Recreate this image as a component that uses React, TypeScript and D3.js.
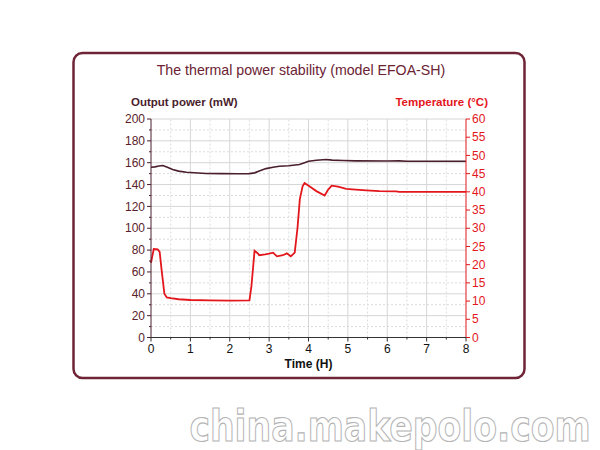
import React from "react";
import * as d3 from "d3";

const title = "The thermal power stability (model EFOA-SH)";
const leftLabel = "Output power (mW)";
const rightLabel = "Temperature (°C)";
const xLabel = "Time (H)";
const watermark = "china.makepolo.com";
const xTicks = [0, 1, 2, 3, 4, 5, 6, 7, 8];
const leftTicks = [0, 20, 40, 60, 80, 100, 120, 140, 160, 180, 200];
const rightTicks = [0, 5, 10, 15, 20, 25, 30, 35, 40, 45, 50, 55, 60];

// Output power (mW), left axis
const powerT = [0, 0.1, 0.2, 0.3, 0.4, 0.55, 0.7, 0.9, 1.1, 1.4, 1.8, 2.2, 2.5, 2.63, 2.75, 2.92, 3.1, 3.26, 3.5, 3.77, 3.9, 4.0, 4.2, 4.45, 4.6, 4.87, 5.2, 6.0, 6.3, 6.5, 7.0, 8.0];
const powerV = [155.9, 156.2, 157.0, 157.4, 156.0, 153.7, 152.3, 151.3, 150.8, 150.1, 150.0, 149.9, 150.0, 150.7, 152.5, 154.6, 155.8, 156.8, 157.2, 158.3, 160.0, 161.3, 162.3, 162.9, 162.4, 162.0, 161.7, 161.5, 161.7, 161.3, 161.3, 161.3];

// Temperature (°C), right axis
const tempT = [0, 0.07, 0.17, 0.22, 0.27, 0.34, 0.4, 0.5, 0.7, 1.0, 1.5, 2.0, 2.5, 2.55, 2.63, 2.7, 2.75, 2.9, 3.0, 3.1, 3.2, 3.35, 3.45, 3.55, 3.65, 3.72, 3.78, 3.85, 3.9, 4.05, 4.2, 4.41, 4.5, 4.59, 4.75, 4.96, 5.2, 5.47, 5.8, 6.23, 6.3, 7.0, 8.0];
const tempV = [20.5, 24.3, 24.2, 23.5, 18.5, 12.0, 11.0, 10.8, 10.5, 10.3, 10.2, 10.1, 10.2, 14.0, 23.8, 23.2, 22.6, 22.8, 23.0, 23.3, 22.3, 22.6, 23.1, 22.3, 23.3, 30.0, 38.0, 41.5, 42.4, 41.3, 40.2, 39.0, 40.6, 41.7, 41.4, 40.8, 40.6, 40.4, 40.2, 40.1, 40.0, 40.0, 40.0];

const POWER_COLOR = "#4a1e2c";
const TEMP_COLOR = "#e3161c";
const FRAME_COLOR = "#6e2436";

export default function App() {
  const x = d3.scaleLinear().domain([0, 8]).range([151, 466]);
  const yL = d3.scaleLinear().domain([0, 200]).range([337.5, 119]);
  const yR = d3.scaleLinear().domain([0, 60]).range([337.5, 119]);

  const powerLine = d3
    .line<number>()
    .x((_, i) => x(powerT[i]))
    .y((d) => yL(d));
  const tempLine = d3
    .line<number>()
    .x((_, i) => x(tempT[i]))
    .y((d) => yR(d));

  const xMinor = d3.range(0, 8.01, 0.5).filter((v) => v % 1 !== 0);
  const yMinor = d3.range(10, 200, 20);
  const font = "Liberation Sans, Arial, sans-serif";

  return (
    <svg width={600} height={450} style={{ position: "absolute", left: 0, top: 0, background: "#fff" }} fontFamily={font}>
      <rect x={0} y={0} width={600} height={450} fill="#fff" />
      <rect x={73.5} y={53} width={451} height={325} rx={9} ry={9} fill="#fff" stroke={FRAME_COLOR} strokeWidth={2.5} />
      <text x={301} y={75} textAnchor="middle" fontSize={14.2} fill="#6b2334">{title}</text>
      <text x={131} y={106} fontSize={11.5} fontWeight="bold" fill={POWER_COLOR}>{leftLabel}</text>
      <text x={488} y={106} textAnchor="end" fontSize={11.5} fontWeight="bold" fill={TEMP_COLOR}>{rightLabel}</text>

      {/* grid */}
      <g>
        {yMinor.map((v) => (
          <line key={"ym" + v} x1={x(0)} x2={x(8)} y1={yL(v)} y2={yL(v)} stroke="#dcdcdc" strokeDasharray="2,2" strokeWidth={1} />
        ))}
        {xMinor.map((v) => (
          <line key={"xm" + v} x1={x(v)} x2={x(v)} y1={yL(0)} y2={yL(200)} stroke="#dcdcdc" strokeDasharray="2,2" strokeWidth={1} />
        ))}
        {leftTicks.filter((v) => v > 0).map((v) => (
          <line key={"yg" + v} x1={x(0)} x2={x(8)} y1={yL(v)} y2={yL(v)} stroke="#d6d6d6" strokeWidth={1} />
        ))}
        {xTicks.filter((v) => v > 0 && v < 8).map((v) => (
          <line key={"xg" + v} x1={x(v)} x2={x(v)} y1={yL(0)} y2={yL(200)} stroke="#d6d6d6" strokeWidth={1} />
        ))}
      </g>

      {/* data */}
      <path d={powerLine(powerV) || ""} fill="none" stroke={POWER_COLOR} strokeWidth={1.6} />
      <path d={tempLine(tempV) || ""} fill="none" stroke={TEMP_COLOR} strokeWidth={1.8} />

      {/* left axis */}
      <line x1={x(0)} x2={x(0)} y1={yL(0)} y2={yL(200)} stroke={POWER_COLOR} strokeWidth={1} />
      {leftTicks.map((v) => (
        <g key={"lt" + v}>
          <line x1={x(0) - 4} x2={x(0)} y1={yL(v)} y2={yL(v)} stroke={POWER_COLOR} />
          <text x={x(0) - 6} y={yL(v)} dy="0.35em" textAnchor="end" fontSize={12} fill="#5a1e2c">{v}</text>
        </g>
      ))}
      {yMinor.map((v) => (
        <line key={"lmt" + v} x1={x(0) - 2} x2={x(0)} y1={yL(v)} y2={yL(v)} stroke={POWER_COLOR} />
      ))}

      {/* right axis */}
      <line x1={x(8)} x2={x(8)} y1={yR(0)} y2={yR(60)} stroke={TEMP_COLOR} strokeWidth={1} />
      {rightTicks.map((v) => (
        <g key={"rt" + v}>
          <line x1={x(8)} x2={x(8) + 4} y1={yR(v)} y2={yR(v)} stroke={TEMP_COLOR} />
          <text x={x(8) + 6} y={yR(v)} dy="0.35em" textAnchor="start" fontSize={12} fill={TEMP_COLOR}>{v}</text>
        </g>
      ))}

      {/* bottom axis */}
      <line x1={x(0)} x2={x(8)} y1={yL(0)} y2={yL(0)} stroke="#333" strokeWidth={1} />
      {xTicks.map((v) => (
        <g key={"xt" + v}>
          <line x1={x(v)} x2={x(v)} y1={yL(0)} y2={yL(0) + 4} stroke="#333" />
          <text x={x(v)} y={yL(0) + 15} textAnchor="middle" fontSize={12} fill="#111">{v}</text>
        </g>
      ))}
      {xMinor.map((v) => (
        <line key={"xmt" + v} x1={x(v)} x2={x(v)} y1={yL(0)} y2={yL(0) + 2} stroke="#333" />
      ))}
      <text x={x(4)} y={368} textAnchor="middle" fontSize={12} fontWeight="bold" fill="#111">{xLabel}</text>

      {/* watermark */}
      <g transform="translate(390,441) scale(1.05,1.3)">
        <text x={0} y={0} textAnchor="middle" fontSize={33} fontWeight="bold" fill="#fff" stroke="#b4b4b4" strokeWidth={0.9} fontFamily="DejaVu Sans, sans-serif">{watermark}</text>
      </g>
    </svg>
  );
}
